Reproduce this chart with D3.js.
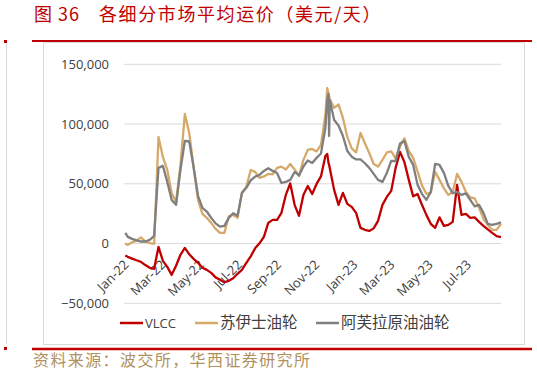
<!DOCTYPE html>
<html><head><meta charset="utf-8">
<script src="https://cdn.jsdelivr.net/npm/d3@7/dist/d3.min.js"></script>
<style>
html,body{margin:0;padding:0;background:#fff;}
svg{display:block;}
</style></head>
<body>
<svg id="chart" width="537" height="375"></svg>
<script>
const dates = ["2022-01-03","2022-01-07","2022-01-14","2022-01-21","2022-01-28","2022-02-04","2022-02-11","2022-02-18","2022-02-25",
"2022-03-04","2022-03-11","2022-03-18","2022-03-25","2022-04-01","2022-04-08","2022-04-15","2022-04-22","2022-04-29",
"2022-05-06","2022-05-13","2022-05-20","2022-05-27","2022-06-03","2022-06-10","2022-06-17","2022-06-24",
"2022-07-01","2022-07-08","2022-07-15","2022-07-22","2022-07-29","2022-08-05","2022-08-12","2022-08-19","2022-08-26",
"2022-09-02","2022-09-09","2022-09-16","2022-09-23","2022-09-30","2022-10-07","2022-10-14","2022-10-21","2022-10-28",
"2022-11-04","2022-11-11","2022-11-18","2022-11-21","2022-11-23","2022-11-24","2022-11-25",
"2022-12-02","2022-12-09","2022-12-16","2022-12-23","2022-12-30",
"2023-01-06","2023-01-13","2023-01-20","2023-01-27","2023-02-03","2023-02-10","2023-02-17","2023-02-24",
"2023-03-03","2023-03-10","2023-03-17","2023-03-24","2023-03-31","2023-04-07","2023-04-14","2023-04-21","2023-04-28",
"2023-05-05","2023-05-12","2023-05-19","2023-05-26","2023-06-02","2023-06-09","2023-06-16","2023-06-23","2023-06-30",
"2023-07-07","2023-07-14","2023-07-21","2023-07-28","2023-08-04","2023-08-11","2023-08-18","2023-08-25"];

const vlcc = [-10000,-11100,-12600,-14000,-15300,-18000,-20300,-21200,-2800,
-14500,-19500,-26200,-18600,-9400,-3600,-9000,-12800,-16100,
-20300,-22000,-24500,-28300,-30300,-32400,-31200,-29100,
-25300,-22000,-16100,-10700,-4000,200,5600,17300,19800,
19800,25700,40700,50300,32400,23200,40700,48200,41500,
49900,56200,73300,75000,67500,65800,63300,
44900,32400,42400,33200,30700,
25700,13100,11500,10600,12700,19000,32400,39000,
44100,63300,76700,68300,53300,39500,41500,32400,24000,
16500,13100,21900,14800,15600,18100,49100,24000,24800,
21500,21900,18100,14800,11900,8900,6200,5400];

const suez = [0,-1100,1000,2400,5200,1700,300,-300,89200,
72500,61600,42100,34900,65800,108400,92600,63300,36500,
24800,21500,17300,12300,8900,8900,22700,24000,
21500,42400,47400,61600,60000,54900,56200,58300,57900,
63300,64400,62000,66600,62000,56600,70000,78300,79200,
77100,82500,107600,130200,125600,123500,121000,
113500,116400,105100,89200,79600,
76200,92600,83900,75800,66600,64400,70000,76200,
77100,71200,81100,88000,77500,71700,60400,48700,41600,
42400,60000,53300,46200,40700,43200,58300,51600,43200,
38600,37800,29800,20700,15600,11500,11500,16500];

const aframax = [8900,5600,3900,2700,1700,1700,3100,6400,63300,
65000,51600,36500,32400,61600,85900,85400,64100,39900,
29800,26800,21500,16900,14200,14800,21500,25400,
23200,42400,46600,52800,56000,57400,60800,63000,60800,
59100,50700,51600,53300,59900,57000,64500,69600,67500,
71700,75400,96700,120100,125200,90000,120100,
103400,98800,90000,77500,72700,
70400,70400,67200,63300,58300,53300,51600,59100,
69100,69100,83800,85900,72500,65800,49100,41600,36500,
43200,66600,65800,59100,48200,42100,43200,40700,42000,
36500,31100,32400,25700,16500,15600,16500,17700];

const seriesNames = ["VLCC","苏伊士油轮","阿芙拉原油油轮"];
const yTicks = [-50000,0,50000,100000,150000];
const xTickDates = ["2022-01-01","2022-03-01","2022-05-01","2022-07-01","2022-09-01","2022-11-01","2023-01-01","2023-03-01","2023-05-01","2023-07-01"];
const xTickLabels = ["Jan-22","Mar-22","May-22","Jul-22","Sep-22","Nov-22","Jan-23","Mar-23","May-23","Jul-23"];
const xDomain = ["2022-01-01","2023-08-25"];
const titleNum = "图 36";
const titleText = "各细分市场平均运价（美元/天）";
const sourceText = "资料来源：波交所，华西证券研究所";

const colors = ["#c00000","#d6a96b","#7f7f7f"];
const parse = d3.utcParse("%Y-%m-%d");
const svg = d3.select("#chart");
const latin = "'Open Sans', 'Noto Sans CJK SC', sans-serif";
const cjk = "'Noto Sans CJK SC', 'Open Sans', sans-serif";

// page decorations
svg.append("rect").attr("x",4).attr("y",40).attr("width",3).attr("height",3).attr("fill","#c00000");
svg.append("rect").attr("x",4).attr("y",347).attr("width",3).attr("height",3).attr("fill","#c00000");
svg.append("line").attr("x1",6.5).attr("x2",6.5).attr("y1",44).attr("y2",344).attr("stroke","#d9d9d9");
svg.append("line").attr("x1",32).attr("x2",532).attr("y1",41).attr("y2",41).attr("stroke","#c00000").attr("stroke-width",2);
svg.append("line").attr("x1",32).attr("x2",532).attr("y1",349).attr("y2",349).attr("stroke","#c00000").attr("stroke-width",2.5);
svg.append("rect").attr("x",43.5).attr("y",42.5).attr("width",481).attr("height",302).attr("fill","none").attr("stroke","#d9d9d9");

// title
const t = svg.append("text").attr("y",21).attr("fill","#c00000").style("font-family",cjk).style("font-size","18px");
t.append("tspan").attr("x",34).style("letter-spacing","1px").text(titleNum);
t.append("tspan").attr("x",99).style("letter-spacing","1.6px").text(titleText);

// source
svg.append("text").attr("x",33).attr("y",366).attr("fill","#b0915e")
  .style("font-family",cjk).style("font-size","16px").style("letter-spacing","1.4px").text(sourceText);

// scales
const x = d3.scaleUtc().domain(xDomain.map(parse)).range([124,501]);
const y = d3.scaleLinear().domain([-50000,150000]).range([303.3,64.3]);

// grid
svg.append("g").selectAll("line").data(yTicks).join("line")
  .attr("x1",124).attr("x2",501).attr("y1",d=>y(d)).attr("y2",d=>y(d))
  .attr("stroke","#d9d9d9").attr("stroke-width",1);

// y labels
svg.append("g").selectAll("text").data(yTicks).join("text")
  .attr("x",109).attr("y",d=>y(d)).attr("dy","0.35em").attr("text-anchor","end")
  .attr("fill","#404040").style("font-family",latin).style("font-size","13px")
  .text(d=>d3.format(",")(d));

// x labels
svg.append("g").selectAll("text").data(xTickDates).join("text")
  .attr("transform",d=>`translate(${x(parse(d))+5.5},${y(0)+22}) rotate(-45)`)
  .attr("text-anchor","end").attr("fill","#404040")
  .style("font-family",latin).style("font-size","13px")
  .text((d,i)=>xTickLabels[i]);

// lines
const all = [vlcc,suez,aframax];
const line = d3.line().x((d,i)=>x(parse(dates[i]))).y(d=>y(d));
all.forEach((s,k)=>{
  svg.append("path").datum(s).attr("d",line).attr("fill","none")
    .attr("stroke",colors[k]).attr("stroke-width",2.3).attr("stroke-linejoin","round");
});

// legend
const legX = [120,195,316];
const legSize = ["13px","15.5px","15.5px"];
seriesNames.forEach((n,k)=>{
  svg.append("line").attr("x1",legX[k]).attr("x2",legX[k]+23).attr("y1",323).attr("y2",323)
    .attr("stroke",colors[k]).attr("stroke-width",2.5);
  svg.append("text").attr("x",legX[k]+25).attr("y",323).attr("dy","0.35em")
    .attr("fill","#404040").style("font-family",k===0?latin:cjk).style("font-size",legSize[k]).text(n);
});
</script>
</body></html>
